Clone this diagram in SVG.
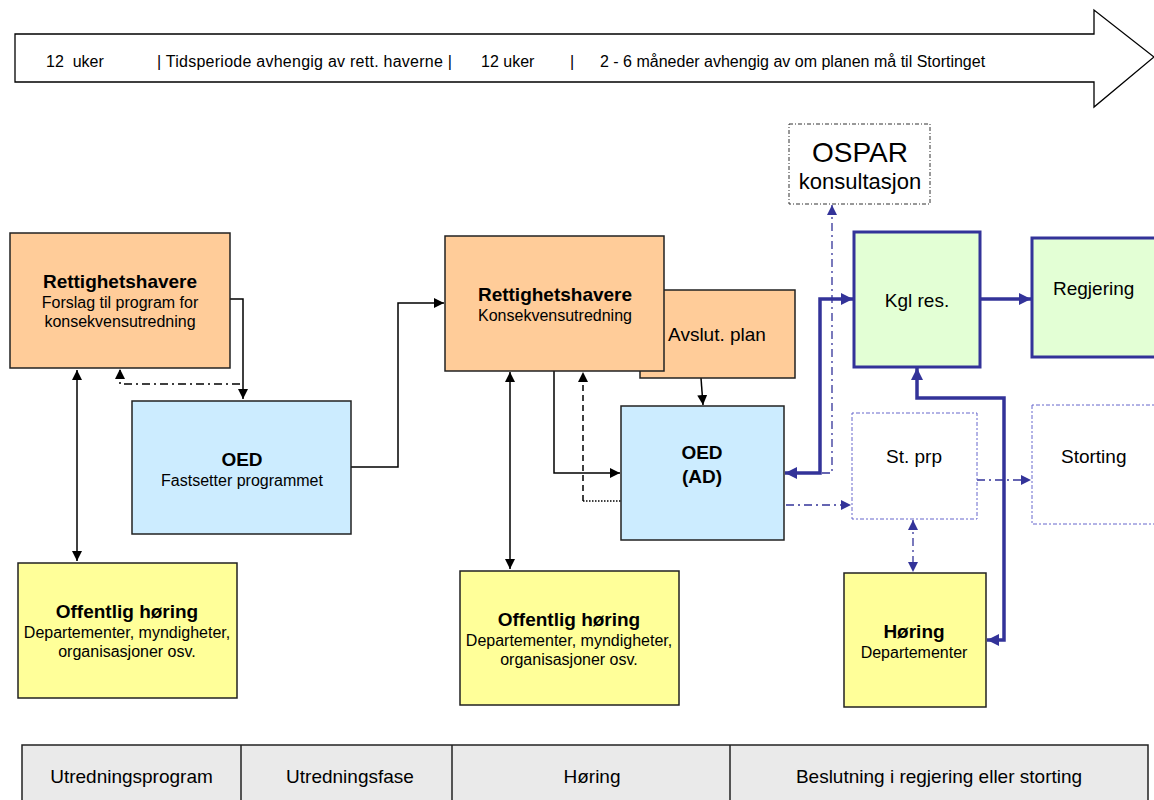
<svg xmlns="http://www.w3.org/2000/svg" width="1154" height="800" viewBox="0 0 1154 800">
<style>
text{font-family:"Liberation Sans",Arial,sans-serif;fill:#000}
.t{font-size:19px;font-weight:bold}
.s{font-size:16px}
.l{font-size:19px}
.tl{font-size:16px}
.box{stroke:#222;stroke-width:1.5}
.peach{fill:#FFCC99}
.blue{fill:#CCECFF}
.yellow{fill:#FFFF99}
.green{fill:#E3FFD5;stroke:#333399;stroke-width:3}
.c{fill:none;stroke:#000;stroke-width:1.5}
.cb{fill:none;stroke:#333399;stroke-width:3.5}
.cd{fill:none;stroke:#333399;stroke-width:1.3;stroke-dasharray:8 4 2 4}
</style>
<defs>
<marker id="ab" viewBox="0 0 10 10" refX="10" refY="5" markerWidth="10" markerHeight="10" markerUnits="userSpaceOnUse" orient="auto-start-reverse"><path d="M0,0L10,5L0,10z" fill="#000"/></marker>
<marker id="au" viewBox="0 0 10 10" refX="10" refY="5" markerWidth="13" markerHeight="12" markerUnits="userSpaceOnUse" orient="auto-start-reverse"><path d="M0,0L10,5L0,10z" fill="#333399"/></marker>
<marker id="at" viewBox="0 0 10 10" refX="10" refY="5" markerWidth="11" markerHeight="10" markerUnits="userSpaceOnUse" orient="auto-start-reverse"><path d="M0,0L10,5L0,10z" fill="#333399"/></marker>
</defs>

<g id="timeline">
<polygon points="15,34 1094,34 1094,10 1154,57 1094,107 1094,82 15,82" fill="#fff" stroke="#000" stroke-width="1.3"/>
<text class="tl" x="46" y="67" xml:space="preserve">12  uker</text>
<text class="tl" x="157" y="67" textLength="295">| Tidsperiode avhengig av rett. haverne |</text>
<text class="tl" x="481" y="67">12 uker</text>
<text class="tl" x="570" y="67">|</text>
<text class="tl" x="600" y="67">2 - 6 måneder avhengig av om planen må til Stortinget</text>
</g>

<g id="connectors">
<path class="c" d="M230,299 H243 V399" marker-end="url(#ab)"/>
<path class="c" d="M240,384 H120 V369" stroke-dasharray="8 4 2 4" marker-end="url(#ab)"/>
<path class="c" d="M77,370 V561" marker-start="url(#ab)" marker-end="url(#ab)"/>
<path class="c" d="M351,467 H398 V303 H444" marker-end="url(#ab)"/>
<path class="c" d="M554,371 V473 H620" marker-end="url(#ab)"/>
<path class="c" d="M583,501 V372" stroke-dasharray="6 4" marker-end="url(#ab)"/>
<path class="c" d="M583,501 H621" stroke-width="1.2" stroke-dasharray="1.5 1.5"/>
<path class="c" d="M510,372 V569" marker-start="url(#ab)" marker-end="url(#ab)"/>
<path class="c" d="M701,378 L703,405" marker-end="url(#ab)"/>
<path class="cd" d="M786,473 H832 V205" marker-end="url(#at)"/>
<path class="cd" d="M786,505 H851" marker-end="url(#at)"/>
<path class="cd" d="M977,480 H1031" marker-end="url(#at)"/>
<path class="cd" d="M913,520 V572" stroke-dasharray="2 3 5 3" marker-start="url(#at)" marker-end="url(#at)"/>
<path class="cb" d="M785,473 H820 V299 H853" marker-start="url(#au)" marker-end="url(#au)"/>
<path class="cb" d="M917,368 V398 H1004 V640 H987" marker-start="url(#au)" marker-end="url(#au)"/>
<path class="cb" d="M981,299 H1031" marker-end="url(#au)"/>
</g>

<g id="rett1">
<rect class="box peach" x="10" y="233" width="220" height="135"/>
<text class="t" x="120" y="288" text-anchor="middle">Rettighetshavere</text>
<text class="s" x="120" y="308" text-anchor="middle">Forslag til program for</text>
<text class="s" x="120" y="327" text-anchor="middle">konsekvensutredning</text>
</g>

<g id="oed1">
<rect class="box blue" x="132" y="401" width="219" height="133"/>
<text class="t" x="242" y="466" text-anchor="middle">OED</text>
<text class="s" x="242" y="486" text-anchor="middle">Fastsetter programmet</text>
</g>

<g id="hoering1">
<rect class="box yellow" x="18" y="563" width="219" height="135"/>
<text class="t" x="127" y="618" text-anchor="middle">Offentlig høring</text>
<text class="s" x="127" y="638" text-anchor="middle">Departementer, myndigheter,</text>
<text class="s" x="127" y="657" text-anchor="middle">organisasjoner osv.</text>
</g>

<g id="avslut">
<rect class="box peach" x="640" y="290" width="155" height="88"/>
<text class="l" x="717" y="341" text-anchor="middle">Avslut. plan</text>
</g>

<g id="rett2">
<rect class="box peach" x="445" y="236" width="219" height="135"/>
<text class="t" x="555" y="301" text-anchor="middle">Rettighetshavere</text>
<text class="s" x="555" y="321" text-anchor="middle">Konsekvensutredning</text>
</g>

<g id="oed2">
<rect class="box blue" x="621" y="406" width="163" height="134"/>
<text class="t" x="702" y="459" text-anchor="middle">OED</text>
<text class="t" x="702" y="483" text-anchor="middle">(AD)</text>
</g>

<g id="hoering2">
<rect class="box yellow" x="460" y="571" width="219" height="134"/>
<text class="t" x="569" y="626" text-anchor="middle">Offentlig høring</text>
<text class="s" x="569" y="646" text-anchor="middle">Departementer, myndigheter,</text>
<text class="s" x="569" y="665" text-anchor="middle">organisasjoner osv.</text>
</g>

<g id="ospar">
<rect x="789" y="124" width="141" height="80" fill="#fff" stroke="#333" stroke-width="1" stroke-dasharray="4 2 1 2"/>
<text x="860" y="162" text-anchor="middle" style="font-size:28px">OSPAR</text>
<text x="860" y="189" text-anchor="middle" style="font-size:22px">konsultasjon</text>
</g>

<g id="kgl">
<rect class="green" x="854" y="232" width="126" height="135"/>
<text class="l" x="917" y="307" text-anchor="middle">Kgl res.</text>
</g>

<g id="regjering">
<rect class="green" x="1032" y="238" width="130" height="119"/>
<text class="l" x="1053" y="295">Regjering</text>
</g>

<g id="stprp">
<rect x="852" y="413" width="125" height="106" fill="#fff" stroke="#6666CC" stroke-width="1" stroke-dasharray="2 2 4 2"/>
<text class="l" x="914" y="463" text-anchor="middle">St. prp</text>
</g>

<g id="storting">
<rect x="1032" y="405" width="130" height="119" fill="#fff" stroke="#6666CC" stroke-width="1" stroke-dasharray="2 2 4 2"/>
<text class="l" x="1061" y="463">Storting</text>
</g>

<g id="hoering3">
<rect class="box yellow" x="844" y="573" width="142" height="134"/>
<text class="t" x="914" y="638" text-anchor="middle">Høring</text>
<text class="s" x="914" y="658" text-anchor="middle">Departementer</text>
</g>

<g id="phases">
<rect x="22" y="745" width="1126" height="80" fill="#EAEAEA" stroke="#222" stroke-width="1.5"/>
<line x1="241" y1="745" x2="241" y2="800" stroke="#222" stroke-width="1.5"/>
<line x1="452" y1="745" x2="452" y2="800" stroke="#222" stroke-width="1.5"/>
<line x1="730" y1="745" x2="730" y2="800" stroke="#222" stroke-width="1.5"/>
<text class="l" x="131.5" y="783" text-anchor="middle">Utredningsprogram</text>
<text class="l" x="350" y="783" text-anchor="middle">Utredningsfase</text>
<text class="l" x="592" y="783" text-anchor="middle">Høring</text>
<text class="l" x="939" y="783" text-anchor="middle">Beslutning i regjering eller storting</text>
</g>
</svg>
